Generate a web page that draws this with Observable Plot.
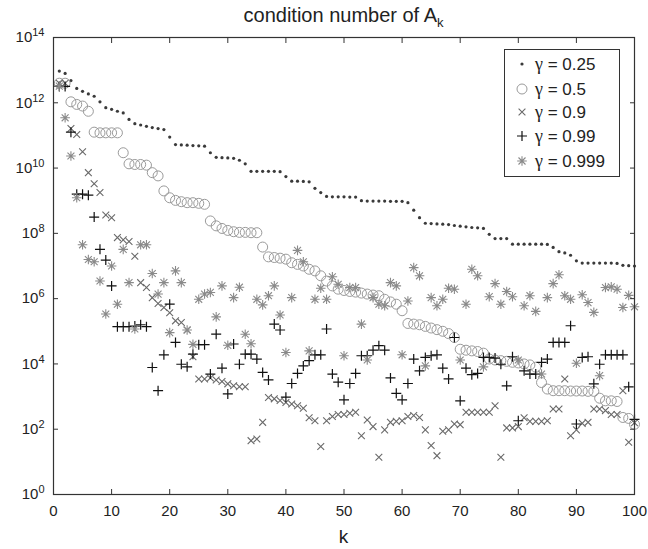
<!DOCTYPE html>
<html>
<head>
<meta charset="utf-8">
<script src="https://cdn.jsdelivr.net/npm/d3@7"></script>
<script src="https://cdn.jsdelivr.net/npm/@observablehq/plot@0.6"></script>
<style>
  html, body { margin: 0; padding: 0; background: #fff; }
  #wrap { position: relative; width: 648px; height: 549px; font-family: "Liberation Sans", Arial, Helvetica, sans-serif; color: #222; }
  #chart { position: absolute; left: 0; top: 0; }
  #title { position: absolute; left: 53px; width: 581px; top: 4px; text-align: center; font-size: 20px; }
  #title .sub { font-size: 13px; position: relative; top: 5px; }
  #xlabel { position: absolute; left: 53px; width: 581px; top: 526px; text-align: center; font-size: 19px; }
  #legend { position: absolute; left: 504px; top: 49px; width: 116px; height: 128px; border: 1px solid #333; background: #fff; box-sizing: border-box; }
  .row { position: absolute; left: 0; height: 22px; display: flex; align-items: center; font-size: 17px; white-space: nowrap; }
  .row svg { margin-left: 10px; margin-right: 6px; }
  .g { font-family: "Liberation Serif", "DejaVu Serif", serif; font-size: 18px; }
</style>
</head>
<body>
<div id="wrap">
  <div id="chart"></div>
  <div id="title">condition number of A<span class="sub">k</span></div>
  <div id="xlabel">k</div>
  <div id="legend"></div>
</div>
<script>
// ---- data (log10 of the condition number), k = 1..100 ----
const k = d3.range(1, 101);
const xTicks = [0, 10, 20, 30, 40, 50, 60, 70, 80, 90, 100];
const yTicks = [1e0, 1e2, 1e4, 1e6, 1e8, 1e10, 1e12, 1e14];
const gammaValues = ["0.25", "0.5", "0.9", "0.99", "0.999"];

const log_g025 = [12.97,12.9,12.68,12.44,12.35,12.27,12.2,12.03,11.85,11.8,
  11.74,11.69,11.49,11.36,11.32,11.28,11.24,11.21,11.18,10.95,
  10.72,10.71,10.7,10.69,10.68,10.67,10.47,10.33,10.32,10.31,
  10.3,10.24,10.13,9.9,9.9,9.9,9.9,9.9,9.89,9.74,
  9.6,9.6,9.59,9.58,9.38,9.25,9.13,9.12,9.12,9.12,
  9.11,9.11,9.0,8.99,8.99,8.99,8.99,8.98,8.98,8.98,
  8.94,8.71,8.48,8.31,8.3,8.29,8.28,8.27,8.24,8.22,
  8.2,8.18,8.17,8.15,7.97,7.84,7.84,7.84,7.67,7.67,
  7.67,7.67,7.67,7.67,7.66,7.57,7.44,7.4,7.33,7.16,
  7.09,7.09,7.09,7.09,7.09,7.09,7.08,7.02,7.01,7.0];

const log_g05 = [12.6,12.6,12.03,11.95,11.9,11.74,11.1,11.08,11.08,11.08,
  11.08,10.47,10.13,10.11,10.11,10.09,9.86,9.76,9.3,9.09,
  9.01,8.97,8.94,8.94,8.92,8.89,8.38,8.23,8.15,8.09,
  8.05,8.03,8.03,8.02,8.02,7.58,7.28,7.26,7.24,7.21,
  7.1,7.05,7.0,6.9,6.85,6.7,6.54,6.39,6.29,6.25,
  6.22,6.2,6.17,6.14,6.11,6.09,5.98,5.9,5.83,5.63,
  5.24,5.22,5.2,5.15,5.1,5.05,5.0,4.93,4.81,4.45,
  4.42,4.4,4.38,4.33,4.15,4.12,4.1,4.08,4.05,4.03,
  4.0,3.97,3.9,3.43,3.23,3.18,3.18,3.18,3.17,3.17,
  3.17,3.16,3.16,2.95,2.87,2.87,2.85,2.36,2.33,2.15];

const log_g09 = [12.6,12.6,11.21,11.03,10.5,9.86,9.52,9.25,8.56,8.48,
  7.87,7.8,7.75,7.3,6.49,6.34,6.03,5.85,5.73,5.57,
  5.32,5.27,5.04,4.22,3.54,3.54,3.57,3.51,3.46,3.39,
  3.33,3.3,3.3,1.65,1.7,2.21,2.97,2.93,2.88,2.82,
  2.77,2.72,2.64,2.35,2.26,1.47,2.26,2.39,2.45,2.45,
  2.49,2.52,1.8,2.28,2.08,1.14,1.98,2.21,2.24,2.26,
  2.39,2.42,2.36,1.98,1.5,1.19,1.94,1.98,2.16,2.14,
  2.52,2.52,2.52,2.52,2.52,2.72,1.14,2.04,2.04,2.08,
  2.35,2.24,2.24,2.24,2.26,2.62,2.62,3.54,1.8,1.98,
  2.18,2.21,2.62,2.62,2.57,2.45,2.45,3.18,1.6,2.2];

const log_g099 = [12.5,12.5,11.1,9.2,9.2,9.17,8.5,7.51,7.18,6.39,
  5.14,5.14,5.14,5.16,5.2,5.14,3.89,3.18,4.28,5.83,
  4.66,3.99,3.91,4.3,4.59,4.59,3.69,4.91,3.87,3.08,
  4.61,3.99,4.3,4.3,4.15,3.74,3.51,5.22,5.04,2.98,
  3.4,3.71,3.94,4.1,4.28,4.28,5.07,3.69,3.44,2.9,
  3.4,3.71,4.25,4.25,4.42,4.56,4.42,3.57,3.1,2.9,
  3.4,4.15,3.79,4.2,4.25,4.28,3.87,3.54,4.81,2.87,
  3.87,3.67,3.71,4.2,4.2,4.18,3.99,3.33,4.22,2.26,
  3.79,3.69,3.69,4.05,4.15,4.66,4.66,4.66,5.17,2.16,
  4.2,4.22,3.39,3.99,4.28,4.28,4.28,4.28,3.3,2.3];

const log_g0999 = [12.51,11.54,10.37,9.09,7.65,7.2,7.13,6.54,5.53,7.0,
  5.83,7.51,6.49,5.07,7.65,7.65,6.77,6.14,6.49,4.96,
  6.85,6.49,5.04,4.6,5.98,6.14,6.19,5.44,6.39,4.57,
  6.03,6.35,4.91,4.62,5.98,5.81,6.09,6.39,5.5,4.35,
  6.03,7.48,7.13,4.4,5.98,6.32,5.98,6.67,6.44,4.25,
  6.34,6.34,5.22,4.12,6.03,5.83,5.78,6.49,6.39,4.28,
  5.93,6.95,6.7,3.94,6.03,5.78,5.98,6.32,6.29,4.12,
  5.83,6.9,6.7,3.91,6.06,6.46,5.83,6.22,6.06,4.12,
  5.78,6.09,5.61,3.69,6.03,6.46,6.73,6.09,5.98,4.02,
  6.12,5.88,5.58,3.64,6.34,6.36,6.29,5.73,6.1,5.75];

// ---- marker shapes ----
const timesSym = {draw(c, size) { const h = Math.sqrt(size / Math.PI); c.moveTo(-h, -h); c.lineTo(h, h); c.moveTo(-h, h); c.lineTo(h, -h); }};
const plusSym = {draw(c, size) { const h = Math.sqrt(size / Math.PI); c.moveTo(-h, 0); c.lineTo(h, 0); c.moveTo(0, -h); c.lineTo(0, h); }};
const starSym = {draw(c, size) { const h = Math.sqrt(size / Math.PI); const d = h * 0.72;
  c.moveTo(-h, 0); c.lineTo(h, 0); c.moveTo(0, -h); c.lineTo(0, h);
  c.moveTo(-d, -d); c.lineTo(d, d); c.moveTo(-d, d); c.lineTo(d, -d); }};

const pow = a => a.map(e => Math.pow(10, e));

const chart = Plot.plot({
  width: 648, height: 549,
  marginLeft: 53, marginRight: 14, marginTop: 37, marginBottom: 55,
  style: {fontFamily: "'Liberation Sans', Arial, Helvetica, sans-serif", fontSize: "15px", color: "#222", background: "transparent", overflow: "visible"},
  x: {domain: [0, 100]},
  y: {type: "log", domain: [1, 1e14]},
  marks: [
    Plot.dot(log_g025, {x: k, y: pow(log_g025), r: 1.6, fill: "#3a3a3a", stroke: "none"}),
    Plot.dot(log_g05, {x: k, y: pow(log_g05), r: 5, fill: "none", stroke: "#9a9a9a", strokeWidth: 1}),
    Plot.dot(log_g09, {x: k, y: pow(log_g09), r: 3.4, symbol: timesSym, fill: "none", stroke: "#6a6a6a", strokeWidth: 1.1}),
    Plot.dot(log_g099, {x: k, y: pow(log_g099), r: 5, symbol: plusSym, fill: "none", stroke: "#111", strokeWidth: 1.2}),
    Plot.dot(log_g0999, {x: k, y: pow(log_g0999), r: 4.8, symbol: starSym, fill: "none", stroke: "#8a8a8a", strokeWidth: 1.1}),
    Plot.frame({stroke: "#333", strokeWidth: 1.2}),
    Plot.axisX({ticks: xTicks, anchor: "bottom", tickSize: -5, tickFormat: () => "", label: null, stroke: "#333"}),
    Plot.axisX({ticks: xTicks, anchor: "top", tickSize: -5, tickFormat: () => "", label: null, stroke: "#333"}),
    Plot.axisX({ticks: xTicks, anchor: "bottom", tickSize: 0, tickPadding: 11, label: null, fontSize: 15}),
    Plot.axisY({ticks: yTicks, anchor: "left", tickSize: -5, tickFormat: () => "", label: null, stroke: "#333"}),
    Plot.axisY({ticks: yTicks, anchor: "right", tickSize: -5, tickFormat: () => "", label: null, stroke: "#333"}),
    Plot.axisY({ticks: yTicks, anchor: "left", tickSize: 0, tickPadding: 9, label: null, fontSize: 15,
      tickFormat: d => "10^" + Math.round(Math.log10(d))})
  ]
});

// superscript exponents for the y tick labels
d3.select(chart).selectAll("text").each(function() {
  const t = this.textContent;
  if (t.indexOf("^") >= 0) {
    const [b, e] = t.split("^");
    const s = d3.select(this);
    s.text(b);
    s.append("tspan").attr("dy", "-0.55em").attr("font-size", "11px").text(e);
  }
});
document.getElementById("chart").appendChild(chart);

// legend
const legendStyles = [
  '<circle cx="7" cy="7" r="1.6" fill="#3a3a3a"/>',
  '<circle cx="7" cy="7" r="5" fill="none" stroke="#9a9a9a"/>',
  '<path d="M3.6,3.6L10.4,10.4M3.6,10.4L10.4,3.6" stroke="#6a6a6a" stroke-width="1.1"/>',
  '<path d="M2,7H12M7,2V12" stroke="#111" stroke-width="1.2"/>',
  '<path d="M2.2,7H11.8M7,2.2V11.8M3.5,3.5L10.5,10.5M3.5,10.5L10.5,3.5" stroke="#8a8a8a" stroke-width="1.1"/>'
];
const legendTops = [3, 28, 51, 75, 100];
const lg = document.getElementById("legend");
gammaValues.forEach((v, i) => {
  const row = document.createElement("div");
  row.className = "row";
  row.style.top = legendTops[i] + "px";
  row.innerHTML = '<svg width="14" height="14">' + legendStyles[i] + '</svg><span><span class="g">γ</span> = ' + v + '</span>';
  lg.appendChild(row);
});
</script>
</body>
</html>
